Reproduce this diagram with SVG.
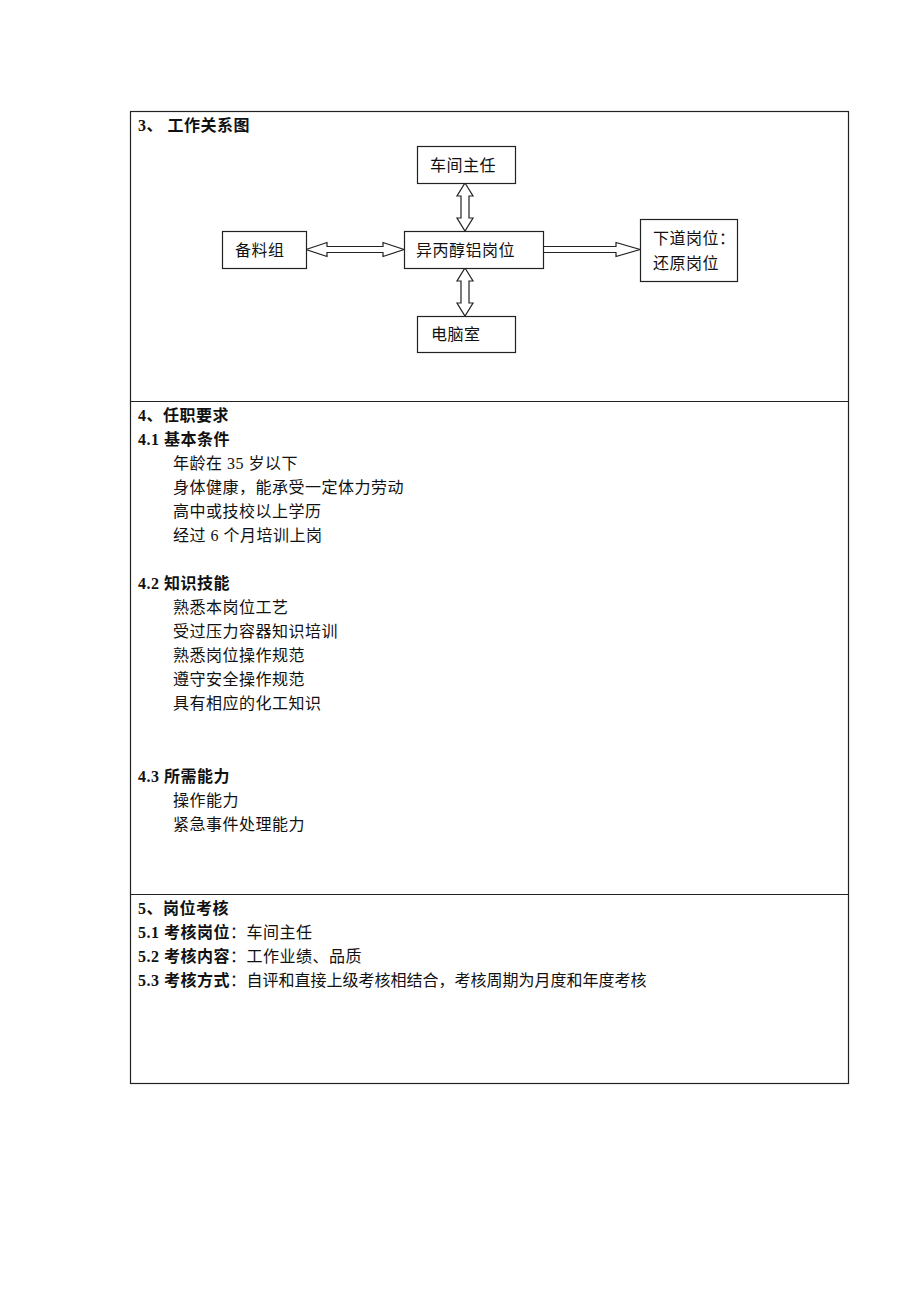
<svg xmlns="http://www.w3.org/2000/svg" width="920" height="1302" viewBox="0 0 920 1302">
<style>
text{font-family:"Liberation Serif","Noto Sans CJK SC",serif;font-size:16px;fill:#111;letter-spacing:0.5px}
.b{font-weight:bold}
.n{letter-spacing:0}
.box{fill:#fff;stroke:#222;stroke-width:1.2}
.arr{fill:#fff;stroke:#222;stroke-width:1.2;stroke-linejoin:miter}
.tbl{fill:none;stroke:#222;stroke-width:1.2}
</style>
<rect width="920" height="1302" fill="#fff"/>
<g id="table">
<rect class="tbl" x="130.5" y="111.5" width="718" height="972"/>
<line class="tbl" x1="130" y1="401.5" x2="848" y2="401.5"/>
<line class="tbl" x1="130" y1="894.5" x2="848" y2="894.5"/>
</g>
<g id="title"><text class="b" x="138" y="131">3、 工作关系图</text></g>
<g id="connectors">
<polygon class="arr" points="465,183 473,196 469,196 469,218 473,218 465,231 457,218 461,218 461,196 457,196"/>
<polygon class="arr" points="465,268 473,281 469,281 469,303 473,303 465,316 457,303 461,303 461,281 457,281"/>
<polygon class="arr" points="306,249.5 327,242.5 327,246.5 383,246.5 383,242.5 404,249.5 383,256.5 383,252.5 327,252.5 327,256.5"/>
<polygon class="arr" points="543,246.5 616,246.5 616,242.5 640,249.5 616,256.5 616,252.5 543,252.5"/>
</g>
<g id="n-director"><rect class="box" x="417.5" y="146.5" width="98" height="37"/><text x="430" y="171">车间主任</text></g>
<g id="n-prep"><rect class="box" x="222.5" y="231.5" width="84" height="37"/><text x="235" y="256">备料组</text></g>
<g id="n-main"><rect class="box" x="404.5" y="231.5" width="139" height="37"/><text x="416" y="256">异丙醇铝岗位</text></g>
<g id="n-next"><rect class="box" x="640.5" y="219.5" width="97" height="62"/><text x="653" y="244">下道岗位：</text><text x="653" y="269">还原岗位</text></g>
<g id="n-computer"><rect class="box" x="417.5" y="316.5" width="98" height="36"/><text x="431" y="340">电脑室</text></g>
<g id="sec4">
<text class="b" x="138" y="421">4、任职要求</text>
<text class="b" x="138" y="445">4.1 基本条件</text>
<text x="173" y="469">年龄在 35 岁以下</text>
<text x="173" y="493">身体健康，能承受一定体力劳动</text>
<text x="173" y="517">高中或技校以上学历</text>
<text x="173" y="541">经过 6 个月培训上岗</text>
<text class="b" x="138" y="589">4.2 知识技能</text>
<text x="173" y="613">熟悉本岗位工艺</text>
<text x="173" y="637">受过压力容器知识培训</text>
<text x="173" y="661">熟悉岗位操作规范</text>
<text x="173" y="685">遵守安全操作规范</text>
<text x="173" y="709">具有相应的化工知识</text>
<text class="b" x="138" y="782">4.3 所需能力</text>
<text x="173" y="806">操作能力</text>
<text x="173" y="830">紧急事件处理能力</text>
</g>
<g id="sec5">
<text class="b" x="138" y="914">5、岗位考核</text>
<text x="138" y="938"><tspan class="b">5.1 考核岗位</tspan>：车间主任</text>
<text x="138" y="962"><tspan class="b">5.2 考核内容</tspan>：工作业绩、品质</text>
<text x="138" y="986"><tspan class="b">5.3 考核方式</tspan>：<tspan class="n">自评和直接上级考核相结合，考核周期为月度和年度考核</tspan></text>
</g>
</svg>
